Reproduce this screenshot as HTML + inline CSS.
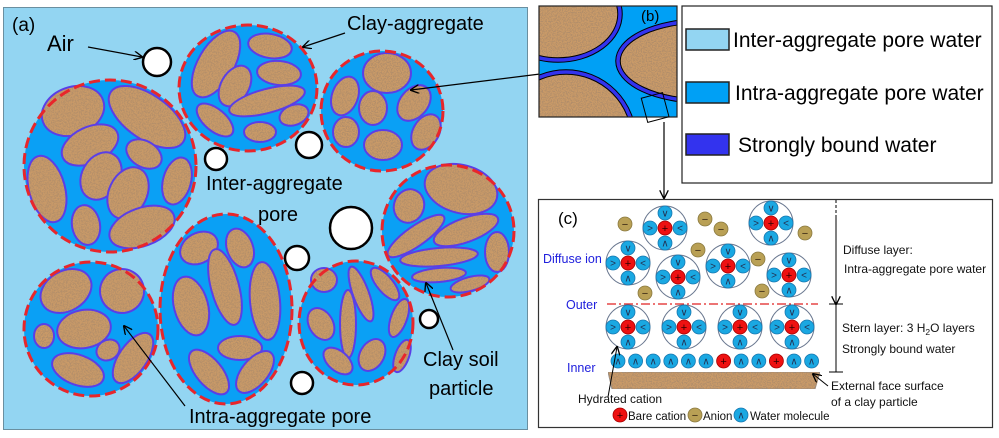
<!DOCTYPE html>
<html><head><meta charset="utf-8"><style>
html,body{margin:0;padding:0;background:#fff}
svg{display:block}
text{font-family:"Liberation Sans",Arial,sans-serif}
</style></head><body>
<svg id="s" width="999" height="438" viewBox="0 0 999 438" xmlns="http://www.w3.org/2000/svg">
<defs>
<filter id="tex" x="0" y="0" width="100%" height="100%">
<feTurbulence type="fractalNoise" baseFrequency="0.8" numOctaves="2" seed="3" result="n"/>
<feColorMatrix in="n" type="matrix" values="0 0 0 0 0.45  0 0 0 0 0.27  0 0 0 0 0.14  0 0 0 7 -3.2" result="d"/>
<feComposite in="d" in2="SourceGraphic" operator="atop"/>
</filter>
<marker id="ar" viewBox="0 0 10 10" refX="9" refY="5" markerWidth="9" markerHeight="9" orient="auto" markerUnits="userSpaceOnUse"><path d="M0,0 L10,5 L0,10" fill="none" stroke="#000" stroke-width="1.5"/></marker>
<clipPath id="cb"><rect x="539" y="6" width="138" height="111"/></clipPath>
</defs>
<rect x="3.5" y="7.5" width="524" height="422" fill="#93d5f2" stroke="#6a8fa0" stroke-width="1"/>
<g id="aggs"></g>
<g id="air" fill="#fff" stroke="#000" stroke-width="2.5">
<circle cx="157" cy="62" r="14"/><circle cx="216" cy="159" r="11"/><circle cx="309" cy="145" r="13"/>
<circle cx="351" cy="228" r="21"/><circle cx="297" cy="258" r="12"/><circle cx="429" cy="319" r="9"/><circle cx="302" cy="383" r="11"/>
</g>
<g stroke="#000" stroke-width="1.2" fill="none" marker-end="url(#ar)">
<line x1="88" y1="47" x2="142" y2="57"/>
<line x1="345" y1="33" x2="303" y2="47"/>
<line x1="548" y1="73" x2="411" y2="90"/>
<line x1="453" y1="350" x2="426" y2="283"/>
<line x1="185" y1="406" x2="124" y2="326"/>
<line x1="664" y1="122" x2="664" y2="198"/>
</g>
<g font-size="20" fill="#000">
<text x="12" y="31" font-size="19">(a)</text>
<text x="47" y="51" font-size="22">Air</text>
<text x="347" y="30">Clay-aggregate</text>
<text x="206" y="190">Inter-aggregate</text>
<text x="258" y="221">pore</text>
<text x="423" y="366">Clay soil</text>
<text x="429" y="395">particle</text>
<text x="189" y="423">Intra-aggregate pore</text>
</g>
<g clip-path="url(#cb)">
<rect x="539" y="6" width="138" height="111" fill="#00a0f5"/>
<g fill="#c99a68" filter="url(#tex)">
<ellipse cx="558" cy="14" rx="60" ry="44"/>
<ellipse cx="566" cy="140" rx="66" ry="66"/>
<ellipse cx="702" cy="61" rx="82" ry="38"/>
</g>
<g fill="none">
<ellipse cx="558" cy="14" rx="62" ry="46" stroke="#000" stroke-width="5.5"/>
<ellipse cx="558" cy="14" rx="62" ry="46" stroke="#3333ee" stroke-width="3.5"/>
<ellipse cx="566" cy="140" rx="68" ry="68" stroke="#000" stroke-width="5.5"/>
<ellipse cx="566" cy="140" rx="68" ry="68" stroke="#3333ee" stroke-width="3.5"/>
<ellipse cx="702" cy="61" rx="84" ry="40" stroke="#000" stroke-width="5.5"/>
<ellipse cx="702" cy="61" rx="84" ry="40" stroke="#3333ee" stroke-width="3.5"/>
</g>
</g>
<rect x="539" y="6" width="138" height="111" fill="none" stroke="#222" stroke-width="1.2"/>
<text x="641" y="21" font-size="15">(b)</text>
<rect x="644" y="95" width="22" height="25" fill="none" stroke="#000" stroke-width="1" transform="rotate(-15 655 107)"/>
<rect x="682" y="6" width="310" height="177" fill="#fff" stroke="#222" stroke-width="1.2"/>
<rect x="686" y="29" width="43" height="21" fill="#93d5f2" stroke="#222" stroke-width="1.5"/>
<rect x="686" y="82" width="43" height="21" fill="#00a0f5" stroke="#222" stroke-width="1.5"/>
<rect x="686" y="134" width="43" height="21" fill="#3333ee" stroke="#222" stroke-width="1.5"/>
<g font-size="21"><text x="733" y="47">Inter-aggregate pore water</text><text x="735" y="100">Intra-aggregate pore water</text><text x="738" y="152">Strongly bound water</text></g>
<rect x="538.5" y="199.5" width="454" height="228" fill="#fff" stroke="#333" stroke-width="1.2"/>
<polygon points="608,372 820,372 815,389 612,389" fill="#c99a68" filter="url(#tex)" stroke="#8a8a8a" stroke-width="1"/>
<line x1="607" y1="304" x2="818" y2="304" stroke="#e02020" stroke-width="1.3" stroke-dasharray="9,3,2,3"/>
<g id="mol"></g>
<g stroke="#000" stroke-width="1">
<line x1="836" y1="200" x2="836" y2="215" stroke-dasharray="3,2"/>
<line x1="836" y1="215" x2="836" y2="304" marker-end="url(#ar)"/>
<line x1="836" y1="304" x2="836" y2="372"/>
<line x1="829" y1="304" x2="843" y2="304"/><line x1="829" y1="372" x2="843" y2="372"/>
<line x1="828" y1="386" x2="813" y2="374" marker-end="url(#ar)"/>
<line x1="608" y1="397" x2="617" y2="347" marker-end="url(#ar)"/>
</g>
<text x="558" y="224" font-size="17">(c)</text>
<g font-size="12.5" fill="#2020dd"><text x="543" y="263">Diffuse ion</text><text x="566" y="309">Outer</text><text x="567" y="372">Inner</text></g>
<g font-size="12" fill="#111">
<text x="843" y="254">Diffuse layer:</text>
<text x="844" y="273">Intra-aggregate pore water</text>
<text x="842" y="332">Stern layer: 3 H<tspan font-size="8.5" dy="3">2</tspan><tspan dy="-3">O layers</tspan></text>
<text x="842" y="353">Strongly bound water</text>
<text x="831" y="390">External face surface</text>
<text x="831" y="406">of a clay particle</text>
<text x="578" y="403">Hydrated cation</text>
<text x="628" y="420" font-size="11.5">Bare cation</text>
<text x="703" y="420" font-size="11.5">Anion</text>
<text x="750" y="420" font-size="11.5">Water molecule</text>
</g>
</svg>
<script>
var NS="http://www.w3.org/2000/svg";
function el(p,t,a){var e=document.createElementNS(NS,t);for(var k in a)e.setAttribute(k,a[k]);p.appendChild(e);return e;}
var A=[
{c:[110,166,86,86],e:[[73,111,32,24,-20],[147,117,44,22,35],[90,145,30,18,-25],[144,154,19,13,30],[47,189,18,34,-15],[101,176,19,25,30],[128,193,19,27,25],[177,181,14,24,15],[86,225,14,20,-10],[142,227,34,19,-20]]},
{c:[248,88,69,63],e:[[216,64,18,37,30],[270,46,22,12,10],[279,73,22,12,5],[235,86,14,22,30],[267,101,39,12,-15],[215,120,11,22,-50],[260,132,16,10,0],[294,115,15,10,-20]]},
{c:[382,111,61,60],e:[[387,73,24,20,0],[345,96,13,20,20],[373,108,14,17,0],[414,103,14,20,40],[346,132,13,15,0],[383,145,19,15,0],[426,132,13,19,30]]},
{c:[448,231,66,66],e:[[461,189,37,24,15],[409,206,15,17,20],[416,236,34,10,-35],[466,230,34,12,-20],[439,257,39,9,-5],[439,275,27,7,-5],[497,252,12,20,0],[470,284,20,7,-15]]},
{c:[91,329,67,67],e:[[66,291,27,20,-30],[122,291,22,22,30],[84,329,27,19,-10],[44,336,10,12,0],[108,350,12,10,-30],[78,370,27,15,20],[133,358,14,29,35]]},
{c:[226,309,66,95],e:[[199,248,20,15,-30],[240,248,13,20,-20],[191,306,17,30,-15],[225,287,14,39,-15],[265,301,15,39,-5],[240,348,22,12,0],[209,372,13,27,-40],[255,372,13,25,40]]},
{c:[356,323,57,62],e:[[324,280,13,12,0],[361,294,8,29,-20],[385,284,8,20,-40],[321,324,12,17,-30],[348,324,8,34,0],[399,318,8,20,20],[338,361,10,17,-50],[372,355,12,17,30],[402,356,7,17,20]]}];
var g=document.getElementById("aggs");
A.forEach(function(a){var c=a.c;
el(g,"ellipse",{cx:c[0],cy:c[1],rx:c[2],ry:c[3],fill:"#0aa0f5"});
a.e.forEach(function(e){var t="rotate("+e[4]+" "+e[0]+" "+e[1]+")";
el(g,"ellipse",{cx:e[0],cy:e[1],rx:e[2],ry:e[3],fill:"#c99a68",filter:"url(#tex)",transform:t});
el(g,"ellipse",{cx:e[0],cy:e[1],rx:e[2],ry:e[3],fill:"none",stroke:"#5a3fe6","stroke-width":2,transform:t});});
el(g,"ellipse",{cx:c[0],cy:c[1],rx:c[2],ry:c[3],fill:"none",stroke:"#e8262b","stroke-width":3,"stroke-dasharray":"11,5"});
});
var m=document.getElementById("mol");
function water(x,y,ch){el(m,"circle",{cx:x,cy:y,r:7,fill:"#1aa8e2",stroke:"#1878b0","stroke-width":0.8});
var t=el(m,"text",{x:x,y:y+3.5,"font-size":10,"text-anchor":"middle",fill:"#235"});t.textContent=ch;}
function cat(x,y){el(m,"circle",{cx:x,cy:y,r:7,fill:"#ee1111",stroke:"#a00","stroke-width":0.8});
var t=el(m,"text",{x:x,y:y+4,"font-size":11,"text-anchor":"middle",fill:"#300"});t.textContent="+";}
function an(x,y){el(m,"circle",{cx:x,cy:y,r:7,fill:"#b9a055",stroke:"#8a7a40","stroke-width":0.8});
var t=el(m,"text",{x:x,y:y+4,"font-size":11,"text-anchor":"middle",fill:"#321"});t.textContent="\u2212";}
function hyd(x,y){el(m,"circle",{cx:x,cy:y,r:22,fill:"#fff",stroke:"#6a7890","stroke-width":1});
water(x,y-15,"\u2228");water(x,y+15,"\u2227");water(x-15,y,">");water(x+15,y,"<");cat(x,y);}
[[665,228],[771,223],[628,263],[678,277],[728,266],[789,275],[628,327],[684,327],[740,327],[792,327]].forEach(function(p){hyd(p[0],p[1]);});
[[625,224],[705,219],[721,229],[698,250],[758,259],[805,233],[645,293],[762,291]].forEach(function(p){an(p[0],p[1]);});
for(var i=0;i<12;i++){var x=618+i*17.6;if(i==6||i==9)cat(x,361);else water(x,361,"\u2227");}
cat(620,415);an(695,415);water(741,415,"\u2227");
</script>
</body></html>
